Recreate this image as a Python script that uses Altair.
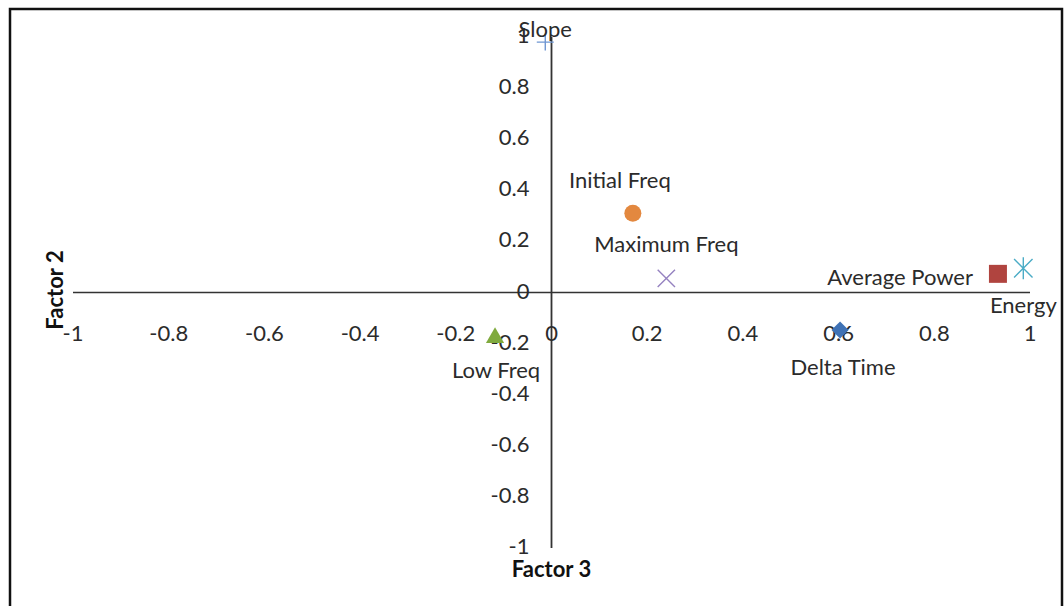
import altair as alt
import pandas as pd

# Factor loadings: variable names and their coordinates on Factor 3 (x) and Factor 2 (y)
names = ["Slope", "Initial Freq", "Maximum Freq", "Average Power", "Energy", "Delta Time", "Low Freq"]
factor3 = [-0.013, 0.17, 0.24, 0.933, 0.986, 0.603, -0.118]
factor2 = [0.98, 0.31, 0.055, 0.073, 0.095, -0.147, -0.167]

# Tick values and their labels (same on both axes)
tick_values = [-1, -0.8, -0.6, -0.4, -0.2, 0, 0.2, 0.4, 0.6, 0.8, 1]
tick_labels = ["-1", "-0.8", "-0.6", "-0.4", "-0.2", "0", "0.2", "0.4", "0.6", "0.8", "1"]

points = pd.DataFrame({"name": names, "f3": factor3, "f2": factor2})
ticks = pd.DataFrame({"t": tick_values, "label": tick_labels, "zero": [0] * len(tick_values)})

FONT = "Lato"
TEXT_COLOR = "#2b2b2b"
W, H = 957, 511

xs = alt.Scale(domain=[-1, 1], nice=False, zero=False)
ys = alt.Scale(domain=[-1, 1], nice=False, zero=False)

PLUS = "M-1,0L1,0M0,-1L0,1"
CROSS = "M-1,-1L1,1M-1,1L1,-1"
STAR = "M-1,-1L1,1M-1,1L1,-1M0,-1.2L0,1.2"

# marker style per variable
markers = {
    "Slope":         dict(shape=PLUS, color="#6f96d2", filled=False, size=289),
    "Initial Freq":  dict(shape="circle", color="#e3883f", filled=True, size=289),
    "Maximum Freq":  dict(shape=CROSS, color="#9582c0", filled=False, size=300),
    "Average Power": dict(shape="square", color="#b0443f", filled=True, size=324),
    "Energy":        dict(shape=STAR, color="#4bacc6", filled=False, size=340),
    "Delta Time":    dict(shape="diamond", color="#3f72b5", filled=True, size=290),
    "Low Freq":      dict(shape="triangle-up", color="#80aa3e", filled=True, size=330),
}

# label placement relative to each marker
label_place = {
    "Slope":         dict(align="center", dx=0, dy=-12),
    "Initial Freq":  dict(align="center", dx=-13, dy=-32),
    "Maximum Freq":  dict(align="center", dx=0, dy=-33),
    "Average Power": dict(align="right", dx=-25, dy=4),
    "Energy":        dict(align="center", dx=0, dy=38),
    "Delta Time":    dict(align="center", dx=3, dy=38),
    "Low Freq":      dict(align="center", dx=1, dy=36),
}

X = lambda f: alt.X(f, scale=xs, axis=None)
Y = lambda f: alt.Y(f, scale=ys, axis=None)

# outer frame around the chart
frame = alt.Chart(alt.Data(values=[{}])).mark_rect(
    fill=None, stroke="#111111", strokeWidth=2.5
).encode(x=alt.value(-63), x2=alt.value(989), y=alt.value(-28), y2=alt.value(590))

# axis lines crossing at the origin
x_axis = alt.Chart(pd.DataFrame({"x0": [-1], "x1": [1], "y0": [0]})).mark_rule(
    color="#333333", strokeWidth=1.5
).encode(x=X("x0:Q"), x2="x1:Q", y=Y("y0:Q"))
y_axis = alt.Chart(pd.DataFrame({"y0": [-1], "y1": [1], "x0": [0]})).mark_rule(
    color="#333333", strokeWidth=1.8
).encode(y=Y("y0:Q"), y2="y1:Q", x=X("x0:Q"))

x_ticks = alt.Chart(ticks).mark_text(
    font=FONT, fontSize=22, color=TEXT_COLOR, align="center", baseline="middle", dy=41
).encode(x=X("t:Q"), y=Y("zero:Q"), text="label:N")
y_ticks = alt.Chart(ticks).mark_text(
    font=FONT, fontSize=22, color=TEXT_COLOR, align="right", baseline="middle", dx=-22, dy=-1
).encode(y=Y("t:Q"), x=X("zero:Q"), text="label:N")

x_title = alt.Chart(alt.Data(values=[{"t": "Factor 3"}])).mark_text(
    font=FONT, fontSize=22, fontWeight="bold", color="#111111", align="center", baseline="middle"
).encode(x=alt.value(478.5), y=alt.value(533), text="t:N")
y_title = alt.Chart(alt.Data(values=[{"t": "Factor 2"}])).mark_text(
    font=FONT, fontSize=22, fontWeight="bold", color="#111111", align="center",
    baseline="middle", angle=270
).encode(x=alt.value(-17), y=alt.value(253), text="t:N")

layers = [frame, x_axis, y_axis, x_ticks, y_ticks, x_title, y_title]

base = alt.Chart(points)
for n in names:
    m = markers[n]
    layers.append(
        base.transform_filter(alt.datum.name == n).mark_point(
            shape=m["shape"], color=m["color"], filled=m["filled"], size=m["size"],
            opacity=1, strokeWidth=1.4
        ).encode(x=X("f3:Q"), y=Y("f2:Q"))
    )
for n in names:
    p = label_place[n]
    layers.append(
        base.transform_filter(alt.datum.name == n).mark_text(
            font=FONT, fontSize=22, color=TEXT_COLOR, baseline="middle",
            align=p["align"], dx=p["dx"], dy=p["dy"]
        ).encode(x=X("f3:Q"), y=Y("f2:Q"), text="name:N")
    )

chart = alt.layer(*layers).properties(
    width=W, height=H,
    autosize=alt.AutoSizeParams(type="none"),
    padding={"left": 73, "top": 37, "right": 34, "bottom": 58},
    background="white",
).configure_view(stroke=None)

chart.save("out.html", embed_options={"renderer": "svg", "actions": False})
